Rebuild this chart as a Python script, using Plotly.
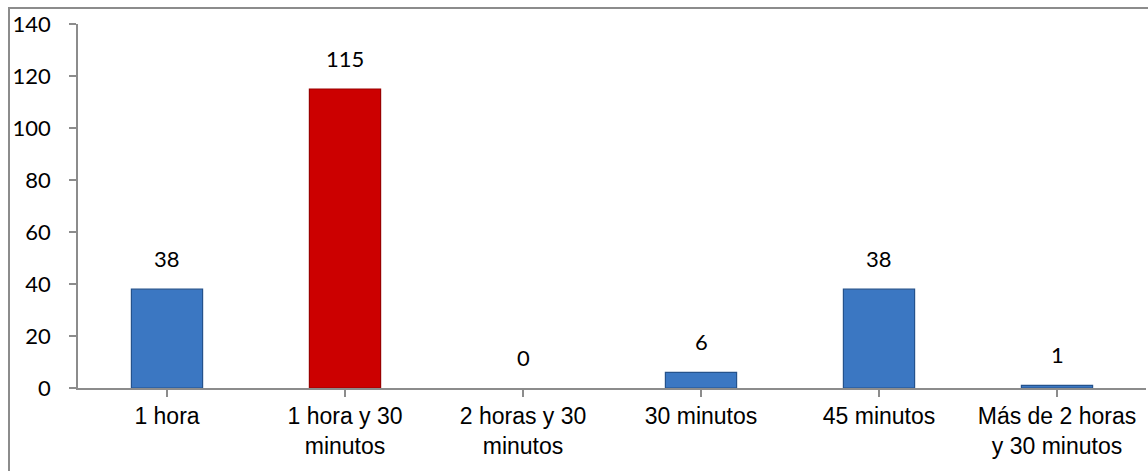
import plotly.graph_objects as go

# Tiempo dedicado (categorías) y número de respuestas
categorias = [
    "1 hora",
    "1 hora y 30<br>minutos",
    "2 horas y 30<br>minutos",
    "30 minutos",
    "45 minutos",
    "Más de 2 horas<br>y 30 minutos",
]
valores = [38, 115, 0, 6, 38, 1]
y_ticks = [0, 20, 40, 60, 80, 100, 120, 140]

AZUL = "#3b77c2"
AZUL_BORDE = "#24528c"
ROJO = "#cc0000"
ROJO_BORDE = "#990000"
GRIS = "#8c8c8c"

maximo = max(valores)
colores = [ROJO if v == maximo else AZUL for v in valores]
bordes = [ROJO_BORDE if v == maximo else AZUL_BORDE for v in valores]
# sin contorno para barras de altura cero
grosor_borde = [1.2 if v > 0 else 0 for v in valores]
x_idx = list(range(len(categorias)))

fig = go.Figure()
fig.add_trace(
    go.Bar(
        x=x_idx,
        y=valores,
        width=0.4,
        marker=dict(color=colores, line=dict(color=bordes, width=grosor_borde)),
        hoverinfo="x+y",
    )
)

# Etiquetas de valor sobre cada barra
for i, v in zip(x_idx, valores):
    fig.add_annotation(
        x=i, y=v, xref="x", yref="y",
        text=str(v), showarrow=False,
        yanchor="bottom", yshift=15,
        font=dict(family="Lato", size=22, color="#000000"),
    )

# Marco del área del gráfico
fig.add_shape(
    type="rect", xref="paper", yref="paper",
    x0=-0.0646, x1=1.08, y0=-0.35, y1=1.044,
    line=dict(color=GRIS, width=2), fillcolor="rgba(0,0,0,0)",
    layer="below",
)

fig.update_layout(
    width=1148,
    height=471,
    margin=dict(l=78, r=2, t=24, b=83),
    paper_bgcolor="white",
    plot_bgcolor="white",
    showlegend=False,
    bargap=0.6,
)

fig.update_xaxes(
    tickmode="array",
    tickvals=x_idx,
    ticktext=categorias,
    range=[-0.5, len(categorias) - 0.5],
    showline=True, linecolor=GRIS, linewidth=1.5,
    ticks="outside", tickson="boundaries", ticklen=7,
    tickcolor=GRIS, tickwidth=1.5,
    showgrid=False, zeroline=False,
    tickfont=dict(family="Liberation Sans", size=23, color="#000000"),
)

fig.update_yaxes(
    range=[0, 140],
    tickmode="array",
    tickvals=y_ticks,
    showline=True, linecolor=GRIS, linewidth=1.5,
    ticks="outside", ticklen=7, tickcolor=GRIS, tickwidth=1.5,
    showgrid=False, zeroline=False,
    ticklabelstandoff=14,
    tickfont=dict(family="Lato", size=22, color="#000000"),
)

fig.write_html("out.html")
